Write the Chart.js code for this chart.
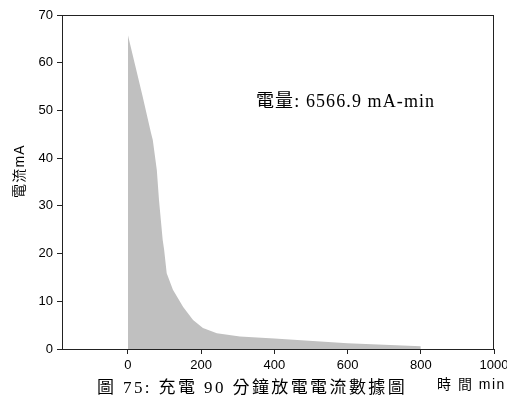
<!DOCTYPE html>
<html>
<head>
<meta charset="utf-8">
<script src="https://cdn.jsdelivr.net/npm/chart.js@4/dist/chart.umd.min.js"></script>
<style>
    html, body { margin: 0; padding: 0; background: #fff; }
    #wrap { position: relative; width: 507px; height: 399px; }
</style>
</head>
<body>
<div id="wrap"><canvas id="dischargeChart" width="507" height="399"></canvas></div>
<script>
// discharge curve
const timeMin = [0, 20, 40, 55, 63, 68, 79, 85, 95, 99, 106, 123, 151, 178, 205, 243, 306, 400, 600, 800];
const currentMA = [65.8, 59.4, 53, 48, 45.3, 43.8, 37.5, 31.2, 22.9, 20.8, 15.9, 12.4, 8.8, 6.1, 4.4, 3.3, 2.6, 2.2, 1.2, 0.6];
const xTicks = [0, 200, 400, 600, 800, 1000];
const yTicks = [0, 10, 20, 30, 40, 50, 60, 70];

const yTitle = '電流mA';
const xTitle = '時 間 min';
const caption = '圖 75: 充電 90 分鐘放電電流數據圖';
const note = '電量: 6566.9 mA-min';

const sansFont = '"Liberation Sans", Arial, "Noto Sans CJK TC", sans-serif';
const serifFont = '"Liberation Serif", "Times New Roman", "Noto Sans CJK TC", serif';

// frame box + texts that sit outside the axes
const extrasPlugin = {
    id: 'extras',
    afterDraw(chart) {
        const { ctx, chartArea } = chart;
        ctx.save();
        ctx.strokeStyle = '#222';
        ctx.lineWidth = 1;
        ctx.strokeRect(chartArea.left + 0.5, chartArea.top + 0.5,
            chartArea.right - chartArea.left - 1, chartArea.bottom - chartArea.top);

        ctx.fillStyle = '#000';
        ctx.textBaseline = 'middle';
        ctx.textAlign = 'left';

        ctx.font = '18px ' + serifFont;
        ctx.letterSpacing = '1.1px';
        ctx.fillText(note, 256, 102);

        ctx.font = '17px ' + serifFont;
        ctx.letterSpacing = '2.4px';
        ctx.fillText(caption, 97, 389);

        ctx.font = '14px ' + sansFont;
        ctx.letterSpacing = '1.5px';
        ctx.fillText(xTitle, 437, 385);

        ctx.letterSpacing = '1.2px';
        ctx.translate(20, 171);
        ctx.rotate(-Math.PI / 2);
        ctx.textAlign = 'center';
        ctx.fillText(yTitle, 0, 0);
        ctx.restore();
    }
};

const ctx = document.getElementById('dischargeChart').getContext('2d');
new Chart(ctx, {
    type: 'line',
    data: {
        datasets: [{
            data: timeMin.map((t, i) => ({ x: t, y: currentMA[i] })),
            borderWidth: 0,
            borderColor: '#c0c0c0',
            backgroundColor: '#c0c0c0',
            fill: 'origin',
            pointRadius: 0,
            tension: 0
        }]
    },
    options: {
        responsive: false,
        animation: false,
        devicePixelRatio: 1,
        layout: { padding: { top: 15, right: 13, left: 0, bottom: 0 } },
        plugins: {
            legend: { display: false },
            tooltip: { enabled: false }
        },
        scales: {
            x: {
                type: 'linear',
                min: -180,
                max: 1000,
                afterBuildTicks: (scale) => { scale.ticks = xTicks.map(v => ({ value: v })); },
                afterFit: (scale) => {
                    scale.height = 50;
                    scale.paddingRight = 0;
                    scale.paddingLeft = 0;
                },
                grid: { drawOnChartArea: false, drawTicks: true, tickLength: 5, color: '#222' },
                border: { display: true, color: '#222' },
                ticks: {
                    color: '#000',
                    padding: 4,
                    maxRotation: 0,
                    callback: (v) => String(v),
                    font: { family: sansFont, size: 13 }
                }
            },
            y: {
                min: 0,
                max: 70,
                afterBuildTicks: (scale) => { scale.ticks = yTicks.map(v => ({ value: v })); },
                afterFit: (scale) => {
                    scale.width = 62;
                    scale.paddingTop = 0;
                    scale.paddingBottom = 0;
                },
                grid: { drawOnChartArea: false, drawTicks: true, tickLength: 5, color: '#222' },
                border: { display: true, color: '#222' },
                ticks: {
                    color: '#000',
                    padding: 4,
                    font: { family: sansFont, size: 13 }
                }
            }
        }
    },
    plugins: [extrasPlugin]
});
</script>
</body>
</html>
